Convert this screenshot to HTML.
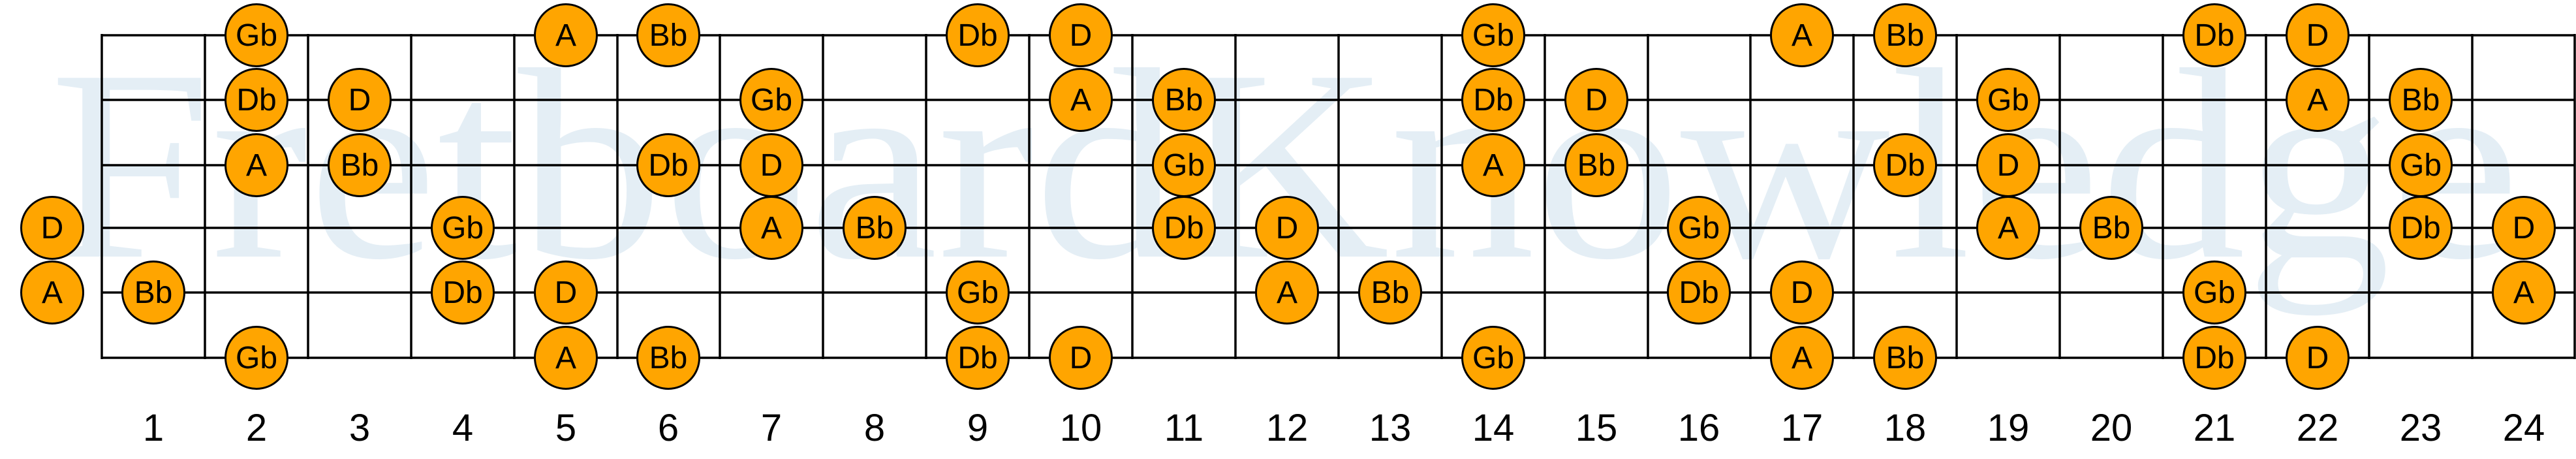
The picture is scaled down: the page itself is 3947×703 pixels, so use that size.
<!DOCTYPE html>
<html><head><meta charset="utf-8"><style>
html,body{margin:0;padding:0;background:#fff}
svg{display:block}
.n circle{fill:#ffa500;stroke:#000;stroke-width:3}
.n text{font-family:"Liberation Sans",sans-serif;font-size:48px;text-anchor:middle;fill:#000}
.num{font-family:"Liberation Sans",sans-serif;font-size:58px;text-anchor:middle;fill:#000}
</style></head><body>
<svg width="3947" height="703" viewBox="0 0 3947 703" xmlns="http://www.w3.org/2000/svg">
<text x="76" y="393" font-family="Liberation Serif, serif" font-size="418" fill="#e4eef5" textLength="3785" lengthAdjust="spacingAndGlyphs">FretboardKnowledge</text>
<g stroke="#000" stroke-width="3.5" fill="none">
<path d="M156 54H3945M156 153H3945M156 253H3945M156 349H3945M156 448H3945M156 548H3945"/>
<path d="M156 52V550M314 52V550M472 52V550M630 52V550M788 52V550M946 52V550M1103 52V550M1261 52V550M1419 52V550M1577 52V550M1735 52V550M1893 52V550M2051 52V550M2209 52V550M2367 52V550M2525 52V550M2682 52V550M2840 52V550M2998 52V550M3156 52V550M3314 52V550M3472 52V550M3630 52V550M3788 52V550M3945 52V550"/>
</g>
<g class="n">
<!-- string 1 y54 -->
<g transform="translate(393,54)"><circle r="47.5"/><text y="16">Gb</text></g>
<g transform="translate(867,54)"><circle r="47.5"/><text y="16">A</text></g>
<g transform="translate(1024,54)"><circle r="47.5"/><text y="16">Bb</text></g>
<g transform="translate(1498,54)"><circle r="47.5"/><text y="16">Db</text></g>
<g transform="translate(1656,54)"><circle r="47.5"/><text y="16">D</text></g>
<g transform="translate(2288,54)"><circle r="47.5"/><text y="16">Gb</text></g>
<g transform="translate(2761,54)"><circle r="47.5"/><text y="16">A</text></g>
<g transform="translate(2919,54)"><circle r="47.5"/><text y="16">Bb</text></g>
<g transform="translate(3393,54)"><circle r="47.5"/><text y="16">Db</text></g>
<g transform="translate(3551,54)"><circle r="47.5"/><text y="16">D</text></g>
<!-- string 2 y153 -->
<g transform="translate(393,153)"><circle r="47.5"/><text y="16">Db</text></g>
<g transform="translate(551,153)"><circle r="47.5"/><text y="16">D</text></g>
<g transform="translate(1182,153)"><circle r="47.5"/><text y="16">Gb</text></g>
<g transform="translate(1656,153)"><circle r="47.5"/><text y="16">A</text></g>
<g transform="translate(1814,153)"><circle r="47.5"/><text y="16">Bb</text></g>
<g transform="translate(2288,153)"><circle r="47.5"/><text y="16">Db</text></g>
<g transform="translate(2446,153)"><circle r="47.5"/><text y="16">D</text></g>
<g transform="translate(3077,153)"><circle r="47.5"/><text y="16">Gb</text></g>
<g transform="translate(3551,153)"><circle r="47.5"/><text y="16">A</text></g>
<g transform="translate(3709,153)"><circle r="47.5"/><text y="16">Bb</text></g>
<!-- string 3 y253 -->
<g transform="translate(393,253)"><circle r="47.5"/><text y="16">A</text></g>
<g transform="translate(551,253)"><circle r="47.5"/><text y="16">Bb</text></g>
<g transform="translate(1024,253)"><circle r="47.5"/><text y="16">Db</text></g>
<g transform="translate(1182,253)"><circle r="47.5"/><text y="16">D</text></g>
<g transform="translate(1814,253)"><circle r="47.5"/><text y="16">Gb</text></g>
<g transform="translate(2288,253)"><circle r="47.5"/><text y="16">A</text></g>
<g transform="translate(2446,253)"><circle r="47.5"/><text y="16">Bb</text></g>
<g transform="translate(2919,253)"><circle r="47.5"/><text y="16">Db</text></g>
<g transform="translate(3077,253)"><circle r="47.5"/><text y="16">D</text></g>
<g transform="translate(3709,253)"><circle r="47.5"/><text y="16">Gb</text></g>
<!-- string 4 y349 -->
<g transform="translate(80,349)"><circle r="47.5"/><text y="16">D</text></g>
<g transform="translate(709,349)"><circle r="47.5"/><text y="16">Gb</text></g>
<g transform="translate(1182,349)"><circle r="47.5"/><text y="16">A</text></g>
<g transform="translate(1340,349)"><circle r="47.5"/><text y="16">Bb</text></g>
<g transform="translate(1814,349)"><circle r="47.5"/><text y="16">Db</text></g>
<g transform="translate(1972,349)"><circle r="47.5"/><text y="16">D</text></g>
<g transform="translate(2603,349)"><circle r="47.5"/><text y="16">Gb</text></g>
<g transform="translate(3077,349)"><circle r="47.5"/><text y="16">A</text></g>
<g transform="translate(3235,349)"><circle r="47.5"/><text y="16">Bb</text></g>
<g transform="translate(3709,349)"><circle r="47.5"/><text y="16">Db</text></g>
<g transform="translate(3867,349)"><circle r="47.5"/><text y="16">D</text></g>
<!-- string 5 y448 -->
<g transform="translate(80,448)"><circle r="47.5"/><text y="16">A</text></g>
<g transform="translate(235,448)"><circle r="47.5"/><text y="16">Bb</text></g>
<g transform="translate(709,448)"><circle r="47.5"/><text y="16">Db</text></g>
<g transform="translate(867,448)"><circle r="47.5"/><text y="16">D</text></g>
<g transform="translate(1498,448)"><circle r="47.5"/><text y="16">Gb</text></g>
<g transform="translate(1972,448)"><circle r="47.5"/><text y="16">A</text></g>
<g transform="translate(2130,448)"><circle r="47.5"/><text y="16">Bb</text></g>
<g transform="translate(2603,448)"><circle r="47.5"/><text y="16">Db</text></g>
<g transform="translate(2761,448)"><circle r="47.5"/><text y="16">D</text></g>
<g transform="translate(3393,448)"><circle r="47.5"/><text y="16">Gb</text></g>
<g transform="translate(3867,448)"><circle r="47.5"/><text y="16">A</text></g>
<!-- string 6 y548 -->
<g transform="translate(393,548)"><circle r="47.5"/><text y="16">Gb</text></g>
<g transform="translate(867,548)"><circle r="47.5"/><text y="16">A</text></g>
<g transform="translate(1024,548)"><circle r="47.5"/><text y="16">Bb</text></g>
<g transform="translate(1498,548)"><circle r="47.5"/><text y="16">Db</text></g>
<g transform="translate(1656,548)"><circle r="47.5"/><text y="16">D</text></g>
<g transform="translate(2288,548)"><circle r="47.5"/><text y="16">Gb</text></g>
<g transform="translate(2761,548)"><circle r="47.5"/><text y="16">A</text></g>
<g transform="translate(2919,548)"><circle r="47.5"/><text y="16">Bb</text></g>
<g transform="translate(3393,548)"><circle r="47.5"/><text y="16">Db</text></g>
<g transform="translate(3551,548)"><circle r="47.5"/><text y="16">D</text></g>
</g>
<g class="num">
<text class="num" x="235" y="675">1</text><text class="num" x="393" y="675">2</text><text class="num" x="551" y="675">3</text><text class="num" x="709" y="675">4</text><text class="num" x="867" y="675">5</text><text class="num" x="1024" y="675">6</text><text class="num" x="1182" y="675">7</text><text class="num" x="1340" y="675">8</text><text class="num" x="1498" y="675">9</text><text class="num" x="1656" y="675">10</text><text class="num" x="1814" y="675">11</text><text class="num" x="1972" y="675">12</text><text class="num" x="2130" y="675">13</text><text class="num" x="2288" y="675">14</text><text class="num" x="2446" y="675">15</text><text class="num" x="2603" y="675">16</text><text class="num" x="2761" y="675">17</text><text class="num" x="2919" y="675">18</text><text class="num" x="3077" y="675">19</text><text class="num" x="3235" y="675">20</text><text class="num" x="3393" y="675">21</text><text class="num" x="3551" y="675">22</text><text class="num" x="3709" y="675">23</text><text class="num" x="3867" y="675">24</text>
</g>
</svg>
</body></html>
